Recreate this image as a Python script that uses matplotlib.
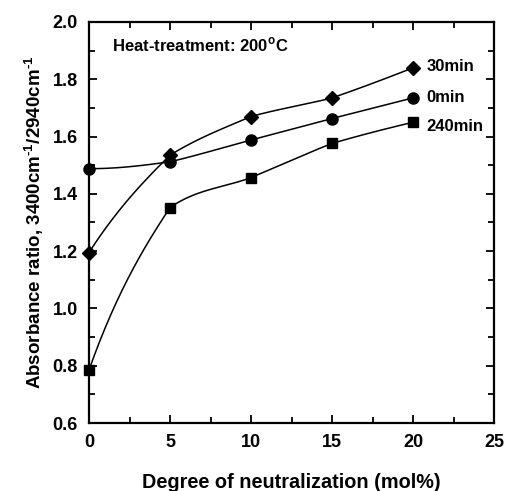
import matplotlib
matplotlib.use("Agg")
import matplotlib.pyplot as plt
import numpy as np
from matplotlib.ticker import MultipleLocator

plt.rcParams['font.family'] = ['Liberation Sans', 'DejaVu Sans']
plt.rcParams['font.weight'] = 'bold'
plt.rcParams['mathtext.fontset'] = 'custom'
plt.rcParams['mathtext.rm'] = 'Liberation Sans:bold'
plt.rcParams['mathtext.bf'] = 'Liberation Sans:bold'

neutralization = [0, 5, 10, 15, 20]
min30 = [1.195, 1.535, 1.67, 1.735, 1.84]
min0 = [1.488, 1.512, 1.588, 1.663, 1.735]
min240 = [0.785, 1.352, 1.457, 1.576, 1.65]
series_labels = ["30min", "0min", "240min"]


def smooth_line(x, y, a=0.2, n=60):
    """Piecewise Hermite curve through the points (tangents lean a little
    toward the neighbouring segments), only used to draw the line."""
    x = np.asarray(x, float)
    y = np.asarray(y, float)
    h = np.diff(x)
    s = np.diff(y) / h
    m = len(s)
    xs_all, ys_all = [], []
    for i in range(m):
        if i == 0:
            d0 = s[0] + 0.5 * (s[0] - s[1])
        else:
            d0 = s[i] + a * (s[i - 1] - s[i])
        if i == m - 1:
            d1 = s[i] + 0.5 * (s[i] - s[i - 1]) * 0.3
        else:
            d1 = s[i] + (0.3 if i == 0 else a) * (s[i + 1] - s[i])
        t = np.linspace(0, 1, n)
        h00 = 2 * t ** 3 - 3 * t ** 2 + 1
        h10 = t ** 3 - 2 * t ** 2 + t
        h01 = -2 * t ** 3 + 3 * t ** 2
        h11 = t ** 3 - t ** 2
        xs_all.append(x[i] + t * h[i])
        ys_all.append(h00 * y[i] + h10 * h[i] * d0 + h01 * y[i + 1] + h11 * h[i] * d1)
    return np.concatenate(xs_all), np.concatenate(ys_all)


fig = plt.figure(figsize=(5.06, 4.91), dpi=100)
ax = fig.add_axes([89 / 506, 1 - 423 / 491, 405 / 506, 401 / 491])

for vals, marker, ms in [(min30, 'D', 7.5), (min0, 'o', 8), (min240, 's', 7.5)]:
    xs, ys = smooth_line(neutralization, vals)
    ax.plot(xs, ys, color='black', lw=1.1)
    ax.plot(neutralization, vals, linestyle='none', marker=marker, ms=ms,
            color='black', clip_on=False, zorder=3)

label_offsets = [0.005, 0.0, -0.015]
for name, vals, off in zip(series_labels, [min30, min0, min240], label_offsets):
    ax.text(20.85, vals[-1] + off, name, fontsize=12, fontweight='bold',
            va='center', ha='left')

ax.text(1.4, 1.92, r"Heat-treatment: 200$^{\text{o}}$C", fontsize=12,
        fontweight='bold', va='center', ha='left')

ax.set_xlim(0, 25)
ax.set_ylim(0.6, 2.0)
ax.xaxis.set_major_locator(MultipleLocator(5))
ax.xaxis.set_minor_locator(MultipleLocator(2.5))
ax.yaxis.set_major_locator(MultipleLocator(0.2))
ax.yaxis.set_minor_locator(MultipleLocator(0.1))
ax.yaxis.set_major_formatter(plt.FormatStrFormatter('%.1f'))
ax.tick_params(which='both', direction='in', top=True, right=True,
               width=1.3, labelsize=13)
ax.tick_params(which='major', length=6, pad=8)
ax.tick_params(which='minor', length=4)
for lbl in ax.get_xticklabels() + ax.get_yticklabels():
    lbl.set_fontweight('bold')
for s in ax.spines.values():
    s.set_linewidth(1.6)

ax.set_xlabel("Degree of neutralization (mol%)", fontsize=14.3,
              fontweight='bold', labelpad=16)
ax.set_ylabel(r"Absorbance ratio, 3400cm$^{\text{-1}}$/2940cm$^{\text{-1}}$",
              fontsize=13.5, fontweight='bold', labelpad=5)

fig.savefig("out.png", dpi=100)
